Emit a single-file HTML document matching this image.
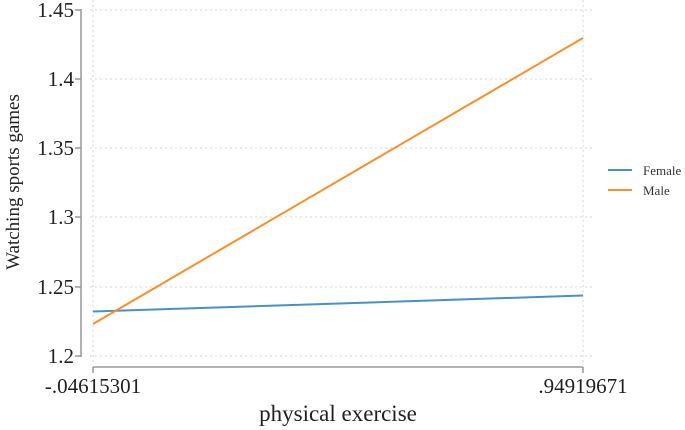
<!DOCTYPE html>
<html><head><style>body{margin:0;background:#fff}svg{display:block}text{font-family:"Liberation Serif",serif}</style></head>
<body>
<svg width="685" height="430" xmlns="http://www.w3.org/2000/svg">
<g stroke="#d4d4d4" stroke-dasharray="2,3" stroke-width="1">
<line x1="90" y1="10" x2="595" y2="10"/>
<line x1="90" y1="79" x2="595" y2="79"/>
<line x1="90" y1="148" x2="595" y2="148"/>
<line x1="90" y1="217" x2="595" y2="217"/>
<line x1="90" y1="287" x2="595" y2="287"/>
<line x1="90" y1="356" x2="595" y2="356"/>
<line x1="93" y1="0" x2="93" y2="362"/>
<line x1="583" y1="0" x2="583" y2="362"/>
</g>
<g stroke="#999" stroke-width="1.5" fill="none">
<line x1="81" y1="9" x2="81" y2="357"/>
<line x1="75" y1="10" x2="81" y2="10"/>
<line x1="75" y1="79" x2="81" y2="79"/>
<line x1="75" y1="148" x2="81" y2="148"/>
<line x1="75" y1="217" x2="81" y2="217"/>
<line x1="75" y1="287" x2="81" y2="287"/>
<line x1="75" y1="356" x2="81" y2="356"/>
<line x1="93" y1="367" x2="583" y2="367"/>
<line x1="93" y1="367" x2="93" y2="373"/>
<line x1="583" y1="367" x2="583" y2="373"/>
</g>
<g font-size="21" fill="#222" text-anchor="end">
<text x="74" y="17">1.45</text>
<text x="74" y="86">1.4</text>
<text x="74" y="155">1.35</text>
<text x="74" y="224">1.3</text>
<text x="74" y="294">1.25</text>
<text x="74" y="363">1.2</text>
</g>
<g font-size="21" fill="#222" text-anchor="middle">
<text x="93" y="393">-.04615301</text>
<text x="583" y="393">.94919671</text>
<text x="338" y="421" font-size="23">physical exercise</text>
</g>
<text transform="translate(19,182) rotate(-90)" font-size="19" fill="#222" text-anchor="middle">Watching sports games</text>
<line x1="93" y1="311.5" x2="583" y2="295.5" stroke="#4a90c8" stroke-width="2"/>
<line x1="93" y1="324" x2="583" y2="38" stroke="#f5902f" stroke-width="2"/>
<line x1="608" y1="170" x2="632" y2="170" stroke="#4a90c8" stroke-width="2"/>
<line x1="608" y1="190" x2="632" y2="190" stroke="#f5902f" stroke-width="2"/>
<text x="643" y="175" font-size="13" fill="#333">Female</text>
<text x="643" y="195" font-size="13" fill="#333">Male</text>
</svg>
</body></html>
